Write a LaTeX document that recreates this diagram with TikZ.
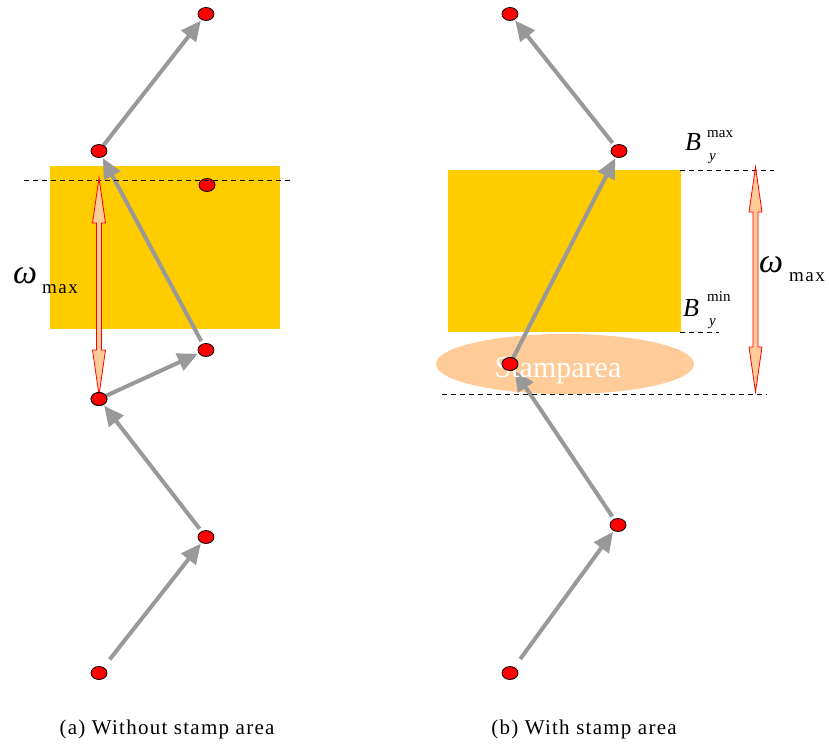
\documentclass[tikz,border=0pt]{standalone}
\usepackage{fontspec}
\setmainfont{Liberation Serif}
\usetikzlibrary{arrows.meta,shapes.geometric}
\pgfdeclarelayer{boxes}
\pgfdeclarelayer{links}
\pgfsetlayers{boxes,links,main}
\definecolor{gold}{HTML}{FFCC00}
\definecolor{peach}{HTML}{FFCC99}
\definecolor{linkgray}{HTML}{999999}
\begin{document}
\begin{tikzpicture}[x=1pt,y=-1pt,
  dot/.style={ellipse,draw=black,line width=0.8pt,fill=red,minimum width=16pt,minimum height=13pt,inner sep=0pt},
  link/.style={draw=linkgray,line width=4pt,-{Triangle[length=20pt,width=18pt]},shorten >=1pt},
  guide/.style={draw=black,line width=1pt,dash pattern=on 5pt off 4pt},
  lbl/.style={inner sep=0pt,anchor=base west},
  pics/dimarrow/.style={code={
    \draw[red,line width=0.8pt,fill=peach,line join=miter]
      (0,0) -- (6.5,45) -- (2.5,45) -- (2.5,#1-45) -- (6.5,#1-45) -- (0,#1)
      -- (-6.5,#1-45) -- (-2.5,#1-45) -- (-2.5,45) -- (-6.5,45) -- cycle;}}
]
\useasboundingbox (0,0) rectangle (829,747);

% ---------- background and boxes ----------
\begin{pgfonlayer}{boxes}
  \fill[white] (0,0) rectangle (829,747);
  \fill[gold] (50,166) rectangle (280,329);
  \fill[gold] (448,170) rectangle (681,332);
  \node[ellipse,fill=peach,minimum width=258pt,minimum height=60pt,inner sep=0pt] (stamp) at (565,364) {};
\end{pgfonlayer}

% ---------- dots (a) ----------
\node[dot] (a1) at (206,14) {};
\node[dot] (a2) at (99,151) {};
\node[dot] (a3) at (207,185) {};
\node[dot] (a4) at (206,350) {};
\node[dot] (a5) at (99,399) {};
\node[dot] (a6) at (206,537) {};
\node[dot] (a7) at (99,673) {};

% ---------- dots (b) ----------
\node[dot] (b1) at (510,14) {};
\node[dot] (b2) at (619,151) {};
\node[dot] (b3) at (510,364) {};
\node[dot] (b4) at (618,525) {};
\node[dot] (b5) at (510,673) {};

% ---------- links ----------
\begin{pgfonlayer}{links}
  \draw[link,shorten <=10pt] (a7) -- (a6);
  \draw[link,shorten <=3pt] (a6) -- (a5);
  \draw[link] (a5) -- (a4);
  \draw[link,shorten <=3pt] (a4) -- (a2);
  \draw[link] (a2) -- (a1);
  \draw[link,shorten <=10pt] (b5) -- (b4);
  \draw[link,shorten <=3pt] (b4) -- (b3);
  \draw[link] (b3) -- (b2);
  \draw[link,shorten <=3pt] (b2) -- (b1);
\end{pgfonlayer}

% ---------- stamp text ----------
\node[inner sep=0pt,anchor=base,text=white,font=\fontsize{30}{30}\selectfont] (stamptxt) at (558,377) {Stamparea};
\node[dot] at (b3) {};

% ---------- guides ----------
\coordinate (ga1) at (24,180);
\coordinate (ga2) at (293,180);
\draw[guide] (ga1) -- (ga2);
\coordinate (gb1) at (680,170);
\coordinate (gb2) at (774,170);
\draw[guide] (gb1) -- (gb2);
\coordinate (gb3) at (680,332);
\coordinate (gb4) at (719,332);
\draw[guide] (gb3) -- (gb4);
\coordinate (gb5) at (442,394);
\coordinate (gb6) at (767,394);
\draw[guide] (gb5) -- (gb6);

% ---------- double arrows ----------
\coordinate (da) at (99,178);
\pic at (da) {dimarrow=217};
\coordinate (db) at (755.5,167);
\pic at (db) {dimarrow=225};
\node[dot] at (a5) {};

% ---------- labels ----------
\node[lbl,font=\fontsize{34}{34}\selectfont\itshape] (wa) at (13,283) {ω};
\node[lbl,font=\fontsize{19}{19}\selectfont\addfontfeatures{LetterSpace=8}] (wam) at (42,293) {max};
\node[lbl,font=\fontsize{34}{34}\selectfont\itshape] (wb) at (759,272) {ω};
\node[lbl,font=\fontsize{19}{19}\selectfont\addfontfeatures{LetterSpace=8}] (wbm) at (789,281) {max};

\node[lbl,font=\fontsize{26}{26}\selectfont\itshape] (bmax) at (685,150) {B};
\node[lbl,font=\fontsize{15}{15}\selectfont] (bmaxs) at (707,137) {max};
\node[lbl,font=\fontsize{15}{15}\selectfont\itshape] (bmaxy) at (709,160) {y};
\node[lbl,font=\fontsize{26}{26}\selectfont\itshape] (bmin) at (683,316) {B};
\node[lbl,font=\fontsize{15}{15}\selectfont] (bmins) at (707,301) {min};
\node[lbl,font=\fontsize{15}{15}\selectfont\itshape] (bminy) at (709,325) {y};

% ---------- captions ----------
\node[inner sep=0pt,anchor=base,font=\fontsize{21}{21}\selectfont\addfontfeatures{LetterSpace=6}] (capa) at (167,734) {(a) Without stamp area};
\node[inner sep=0pt,anchor=base,font=\fontsize{21}{21}\selectfont\addfontfeatures{LetterSpace=6}] (capb) at (584,734) {(b) With stamp area};
\end{tikzpicture}
\end{document}
